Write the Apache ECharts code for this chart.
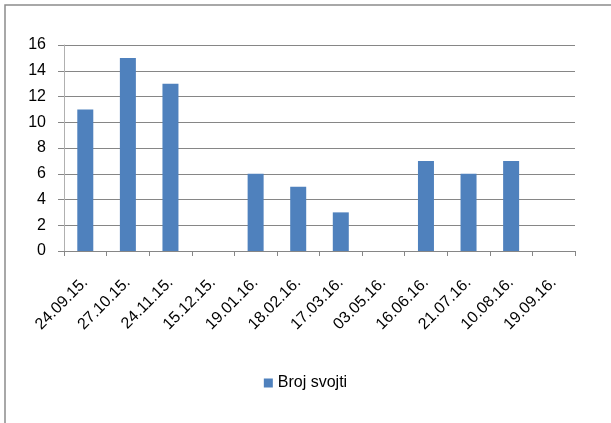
<!DOCTYPE html>
<html>
<head>
<meta charset="utf-8">
<script src="https://cdn.jsdelivr.net/npm/echarts@6/dist/echarts.min.js"></script>
<style>
  html, body { margin: 0; padding: 0; background: #fff; }
  #chart { width: 611px; height: 423px; }
</style>
</head>
<body>
<div id="chart"></div>
<script>
// Sampling dates and number of taxa recorded on each
const dates = ['24.09.15.', '27.10.15.', '24.11.15.', '15.12.15.', '19.01.16.', '18.02.16.',
               '17.03.16.', '03.05.16.', '16.06.16.', '21.07.16.', '10.08.16.', '19.09.16.'];
const brojSvojti = [11, 15, 13, 0, 6, 5, 3, 0, 7, 6, 7, 0];
const seriesName = 'Broj svojti';
const yTicks = { min: 0, max: 16, interval: 2 };

const font = 'Liberation Sans, Arial, sans-serif';
const chart = echarts.init(document.getElementById('chart'), null, { renderer: 'canvas' });

chart.setOption({
  backgroundColor: '#ffffff',
  animation: false,
  graphic: [{
    type: 'rect',
    shape: { x: 5, y: 5, width: 700, height: 500 },
    style: { fill: 'none', stroke: '#8c8c8c', lineWidth: 1.5 },
    silent: true
  }],
  grid: { left: 64, right: 36, top: 45, bottom: 172, containLabel: false },
  legend: {
    data: [seriesName],
    left: 'center',
    top: 370,
    icon: 'rect',
    itemWidth: 9,
    itemHeight: 9,
    itemGap: 10,
    textStyle: { fontFamily: font, fontSize: 16, color: '#000' }
  },
  xAxis: {
    type: 'category',
    data: dates,
    boundaryGap: true,
    axisLine: { show: true, lineStyle: { color: '#868686', width: 1 } },
    axisTick: { show: true, alignWithLabel: false, length: 5, lineStyle: { color: '#868686' } },
    axisLabel: {
      interval: 0,
      rotate: 45,
      margin: 29,
      fontFamily: font,
      fontSize: 16,
      color: '#000'
    },
    splitLine: { show: false }
  },
  yAxis: {
    type: 'value',
    min: yTicks.min,
    max: yTicks.max,
    interval: yTicks.interval,
    axisLine: { show: true, lineStyle: { color: '#b0b0b0', width: 1 } },
    axisTick: { show: true, inside: false, length: 6, lineStyle: { color: '#868686' } },
    axisLabel: { margin: 18, fontFamily: font, fontSize: 16, color: '#000' },
    splitLine: { show: true, lineStyle: { color: '#868686', width: 1 } }
  },
  series: [{
    name: seriesName,
    type: 'bar',
    data: brojSvojti,
    barWidth: 16,
    itemStyle: { color: '#4f81bd' }
  }]
});
</script>
</body>
</html>
